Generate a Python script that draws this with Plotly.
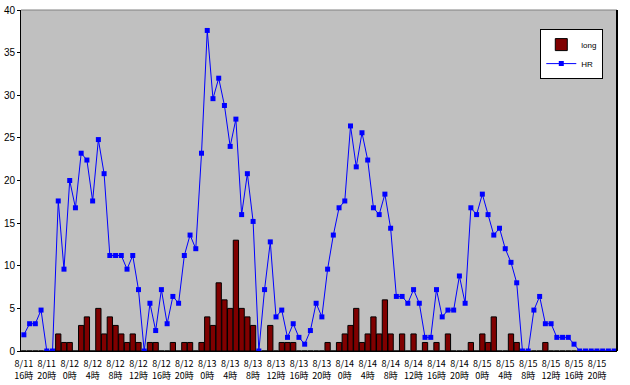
import plotly.graph_objects as go

# hourly categories 8/11 16時 .. 8/15 23時
days = ["8/11", "8/12", "8/13", "8/14", "8/15"]
start_hour = 16
categories = []
for di, d in enumerate(days):
    for h in range(24):
        if di == 0 and h < start_hour:
            continue
        categories.append(f"{d} {h}時")

long_vals = [0, 0, 0, 0, 0, 0, 2, 1, 1, 0, 3, 4, 0, 5, 2, 4, 3, 2, 1, 2,
             1, 0, 1, 1, 0, 0, 1, 0, 1, 1, 0, 1, 4, 3, 8, 6, 5, 13, 5, 4,
             3, 0, 0, 3, 0, 1, 1, 1, 0, 0, 0, 0, 0, 1, 0, 1, 2, 3, 5, 1,
             2, 4, 2, 6, 2, 0, 2, 0, 2, 0, 1, 0, 1, 0, 2, 0, 0, 0, 1, 0,
             2, 1, 4, 0, 0, 2, 1, 0, 0, 0, 0, 1, 0, 0, 0, 0, 0, 0, 0, 0,
             0, 0, 0, 0]

hr_vals = [1.9, 3.2, 3.2, 4.8, 0, 0, 17.6, 9.6, 20.0, 16.8, 23.2, 22.4, 17.6, 24.8, 20.8,
           11.2, 11.2, 11.2, 9.6, 11.2, 7.2, 0, 5.6, 2.4, 7.2, 3.2, 6.4, 5.6, 11.2, 13.6,
           12.0, 23.2, 37.6, 29.6, 32.0, 28.8, 24.0, 27.2, 16.0, 20.8, 15.2, 0, 7.2, 12.8,
           4.0, 4.8, 1.6, 3.2, 1.6, 0.8, 2.4, 5.6, 4.0, 9.6, 13.6, 16.8, 17.6, 26.4, 21.6,
           25.6, 22.4, 16.8, 16.0, 18.4, 14.4, 6.4, 6.4, 5.6, 7.2, 5.6, 1.6, 1.6, 7.2, 4.0,
           4.8, 4.8, 8.8, 5.6, 16.8, 16.0, 18.4, 16.0, 13.6, 14.4, 12.0, 10.4, 8.0, 0, 0,
           4.8, 6.4, 3.2, 3.2, 1.6, 1.6, 1.6, 0.8, 0, 0, 0, 0, 0, 0, 0]

tick_vals = categories[::4]
tick_text = [c.replace(" ", "<br>") for c in tick_vals]
y_ticks = [0, 5, 10, 15, 20, 25, 30, 35, 40]

fig = go.Figure()
fig.add_trace(go.Bar(
    x=categories, y=long_vals, name="long",
    marker=dict(color="#800000", line=dict(color="#000000", width=1)),
))
fig.add_trace(go.Scatter(
    x=categories, y=hr_vals, name="HR", mode="lines+markers",
    line=dict(color="#0000FF", width=1),
    marker=dict(symbol="square", size=5, color="#0000FF"),
))

fig.update_layout(
    width=630, height=385,
    margin=dict(l=21, r=13, t=10, b=34, autoexpand=False),
    paper_bgcolor="#FFFFFF",
    plot_bgcolor="#C0C0C0",
    bargap=0.08,
    showlegend=True,
    legend=dict(x=0.977, y=0.944, xanchor="right", yanchor="top",
                bgcolor="#FFFFFF", bordercolor="#000000", borderwidth=1,
                font=dict(family="Liberation Sans", size=8, color="#000000"),
                tracegroupgap=0, itemwidth=30),
    font=dict(family="Noto Sans CJK JP", size=9, color="#000000"),
)
fig.update_xaxes(
    type="category", categoryorder="array", categoryarray=categories,
    range=[-0.5, len(categories) - 0.5], automargin=False,
    tickmode="array", tickvals=tick_vals, ticktext=tick_text,
    tickangle=0, showgrid=False, showline=True, linecolor="#000000", linewidth=1,
    ticks="", ticklabelstandoff=4,
    tickfont=dict(family="Noto Sans CJK JP", size=9, color="#000000"),
    zeroline=False,
)
fig.update_yaxes(
    range=[0, 40], tickmode="array", tickvals=y_ticks, automargin=False,
    showgrid=False, showline=True, linecolor="#000000", linewidth=1,
    ticks="outside", ticklen=3, tickcolor="#000000",
    tickfont=dict(family="Liberation Sans", size=10, color="#000000"),
    zeroline=False,
)
fig.add_shape(type="line", xref="paper", yref="paper", x0=0, x1=1, y0=1, y1=1,
              line=dict(color="#808080", width=1))
fig.add_shape(type="line", xref="paper", yref="paper", x0=1, x1=1, y0=0, y1=1,
              line=dict(color="#000000", width=2))

fig.write_html("out.html", config={"displayModeBar": False},
               post_script="document.body.style.margin='0';document.body.style.overflow='hidden';")
